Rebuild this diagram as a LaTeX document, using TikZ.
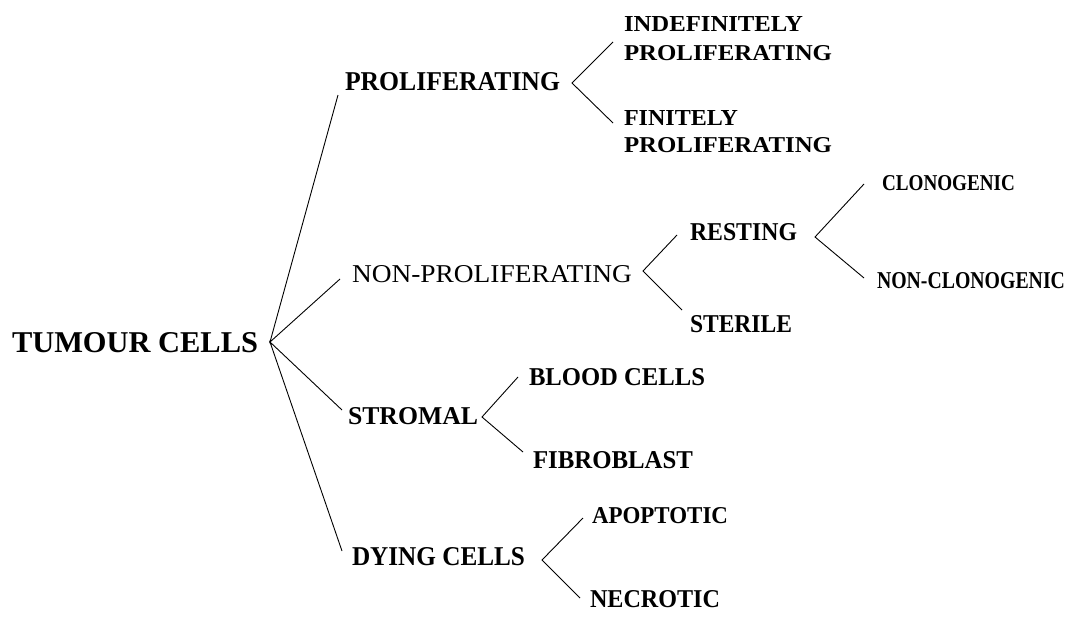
\documentclass[tikz,border=0pt]{standalone}
\usepackage{fontspec}
\usepackage{graphicx}
\setmainfont{Liberation Serif}
\newcommand{\fitt}[3]{\resizebox{#1pt}{#2pt}{#3}}
\newcommand{\twolines}[2]{\vbox{\offinterlineskip\hbox{#1}\kern13pt\hbox{#2}}}
\tikzset{
  lbl/.style={inner sep=0pt, outer sep=0pt, anchor=base west},
  conn/.style={draw=black, line width=0.9pt}
}
\begin{document}
\begin{tikzpicture}[x=1pt,y=-1pt]
\useasboundingbox (0,0) rectangle (1070,616);
% labels
\node[lbl] (tc) at (12,352) {\fitt{246}{20}{\bfseries TUMOUR CELLS}};
\node[lbl] (prol) at (345,90) {\fitt{215}{18}{\bfseries PROLIFERATING}};
\node[lbl] (indef) at (624,60) {\twolines{\fitt{179}{15}{\bfseries INDEFINITELY}}{\fitt{208}{15}{\bfseries PROLIFERATING}}};
\node[lbl] (finit) at (624,152) {\vbox{\offinterlineskip\hbox{\fitt{114}{15}{\bfseries FINITELY}}\kern12pt\hbox{\fitt{208}{15}{\bfseries PROLIFERATING}}}};
\node[lbl] (nonprol) at (352,282) {\fitt{280}{17}{NON-PROLIFERATING}};
\node[lbl] (rest) at (690,240) {\fitt{107}{17}{\bfseries RESTING}};
\node[lbl] (ster) at (690,332) {\fitt{102}{17}{\bfseries STERILE}};
\node[lbl] (clono) at (882,190) {\fitt{133}{15}{\bfseries CLONOGENIC}};
\node[lbl] (nonclono) at (877,288) {\fitt{188}{16}{\bfseries NON-CLONOGENIC}};
\node[lbl] (strom) at (348,424) {\fitt{130}{17}{\bfseries STROMAL}};
\node[lbl] (blood) at (529,385) {\fitt{176}{17}{\bfseries BLOOD CELLS}};
\node[lbl] (fibro) at (533,468) {\fitt{160}{17}{\bfseries FIBROBLAST}};
\node[lbl] (dying) at (352,565) {\fitt{173}{18}{\bfseries DYING CELLS}};
\node[lbl] (apop) at (592,523) {\fitt{136}{16}{\bfseries APOPTOTIC}};
\node[lbl] (necro) at (590,607) {\fitt{130}{17}{\bfseries NECROTIC}};
% connector points
\coordinate (hub) at (270,342);
\coordinate (hP) at (338,95);
\coordinate (hN) at (340,279);
\coordinate (hS) at (342,410);
\coordinate (hD) at (342,551);
\coordinate (pv) at (572,83);
\coordinate (pu) at (613,42);
\coordinate (pd) at (613,123);
\coordinate (nv) at (643,271);
\coordinate (nu) at (677,235);
\coordinate (nd) at (682,310);
\coordinate (rv) at (815,237);
\coordinate (ru) at (864,184);
\coordinate (rd) at (864,278);
\coordinate (sv) at (482,417);
\coordinate (su) at (518,377);
\coordinate (sd) at (523,452);
\coordinate (dv) at (542,560);
\coordinate (du) at (583,518);
\coordinate (dd) at (580,598);
% connectors
\draw[conn] (hP) -- (hub) -- (hN);
\draw[conn] (hS) -- (hub) -- (hD);
\draw[conn] (pu) -- (pv) -- (pd);
\draw[conn] (nu) -- (nv) -- (nd);
\draw[conn] (ru) -- (rv) -- (rd);
\draw[conn] (su) -- (sv) -- (sd);
\draw[conn] (du) -- (dv) -- (dd);
\end{tikzpicture}
\end{document}
